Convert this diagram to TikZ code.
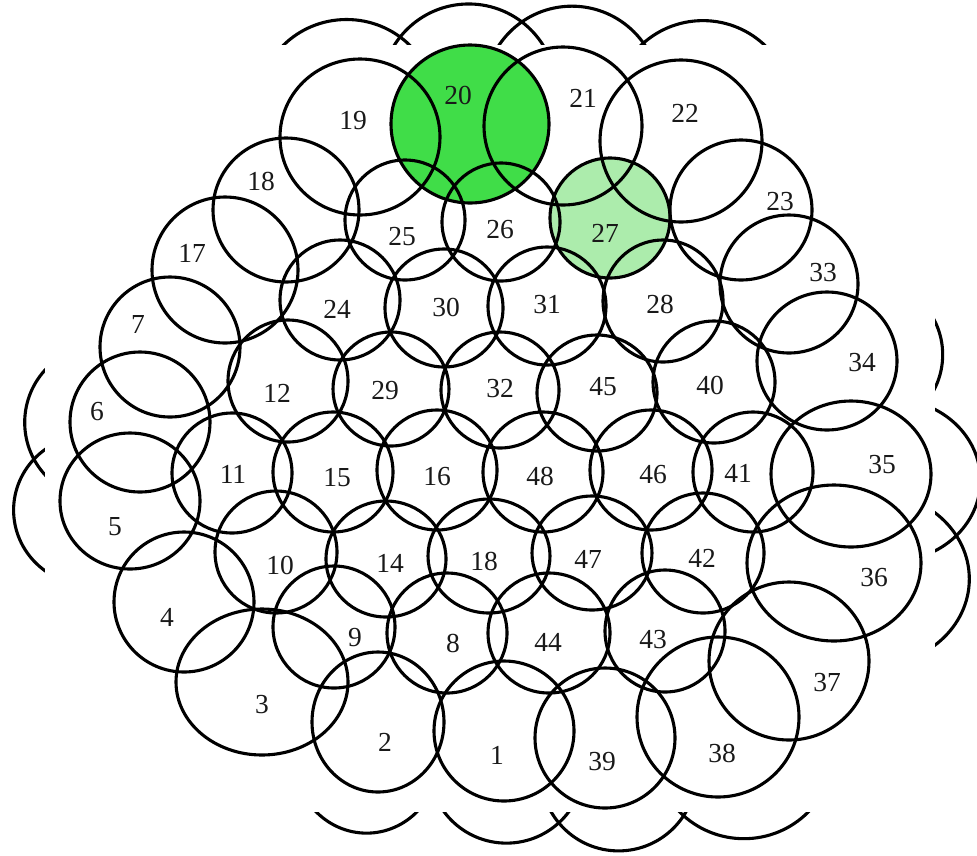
\documentclass[tikz,border=0pt]{standalone}
\usepackage{fontspec}
\setmainfont{Liberation Serif}
\definecolor{gDark}{RGB}{64,221,72}
\definecolor{gLight}{RGB}{172,236,172}
\tikzset{
  ring/.style={line width=3.1pt, draw=black},
  lbl/.style={font=\fontsize{27.5}{27.5}\selectfont, inner sep=0pt, text=black!90}
}
\newcommand{\drawrings}{%
  \foreach \cx/\cy/\rx/\ry in {
    504/731/70/70, 378/722/66/70, 262/682/86/73, 184/602/70/70, 130/501/70/68,
    140/422/70/70, 170/347/70/70, 225/270/73/73, 286/210/73/72, 360/137/80/78,
    470/124/79/79, 563/126/79/79, 681/141/81/81, 741/210/71/70, 789/284/69/69,
    827/361/70/69, 851/474/80/73, 834/563/87/78, 789/661/80/79, 718/717/81/80,
    605/738/70/70,
    405/220/60/60, 501/222/59/59, 610/218/60/60,
    340/300/60/60, 444/308/59/59, 547/306/59/59, 663/301/60/61,
    288/381/60/61, 391/389/58/57, 500/390/59/58, 597/393/60/58, 714/382/61/61,
    232/473/60/60, 333/472/60/60, 437/470/60/60, 543/472/60/60, 651/470/61/60, 753/472/60/60,
    276/552/61/61, 386/559/60/58, 489/556/61/57, 592/553/60/57, 703/553/61/60,
    334/627/61/61, 447/633/60/60, 549/633/61/60, 665/631/60/61}
  {\draw[ring] (\cx,\cy) ellipse [x radius=\rx, y radius=\ry];}%
}
\begin{document}
\begin{tikzpicture}[x=1pt, y=-1pt]
\useasboundingbox (0,0) rectangle (977,855);
% enlarged copy behind
\begin{scope}[shift={(502,408)}, scale=1.11, shift={(-500,-409)}]
  \drawrings
\end{scope}
\fill[white] (45,45) rectangle (935,812);
% highlighted cells
\fill[gDark] (470,124) circle [radius=79];
\fill[gLight] (610,218) circle [radius=60];
\drawrings
\foreach \nm/\t/\lx/\ly in {
  n1/1/497/755, n2/2/385/742, n3/3/262/705, n4/4/167/617, n5/5/115/527,
  n6/6/97/412, n7/7/138/324, n8/8/453/643, n9/9/355/638, n10/10/280/565,
  n11/11/233/474, n12/12/277/393, n14/14/390/563, n15/15/337/478, n16/16/437/477,
  n17/17/192/253, n18a/18/261/181, n18b/18/484/561, n19/19/353/121, n20/20/458/95,
  n21/21/583/98, n22/22/685/113, n23/23/780/202, n24/24/337/309, n25/25/402/237,
  n26/26/500/230, n27/27/605/233, n28/28/660/304, n29/29/385/391, n30/30/446/307,
  n31/31/547/305, n32/32/500/389, n33/33/823/273, n34/34/862/363, n35/35/882/465,
  n36/36/874/578, n37/37/827/683, n38/38/722/753, n39/39/602/762, n40/40/710/385,
  n41/41/738/473, n42/42/702/558, n43/43/653/640, n44/44/548/642, n45/45/603/387,
  n46/46/653/475, n47/47/588/559, n48/48/540/476}
  {\node[lbl] (\nm) at (\lx,\ly) {\t};}
\end{tikzpicture}
\end{document}
